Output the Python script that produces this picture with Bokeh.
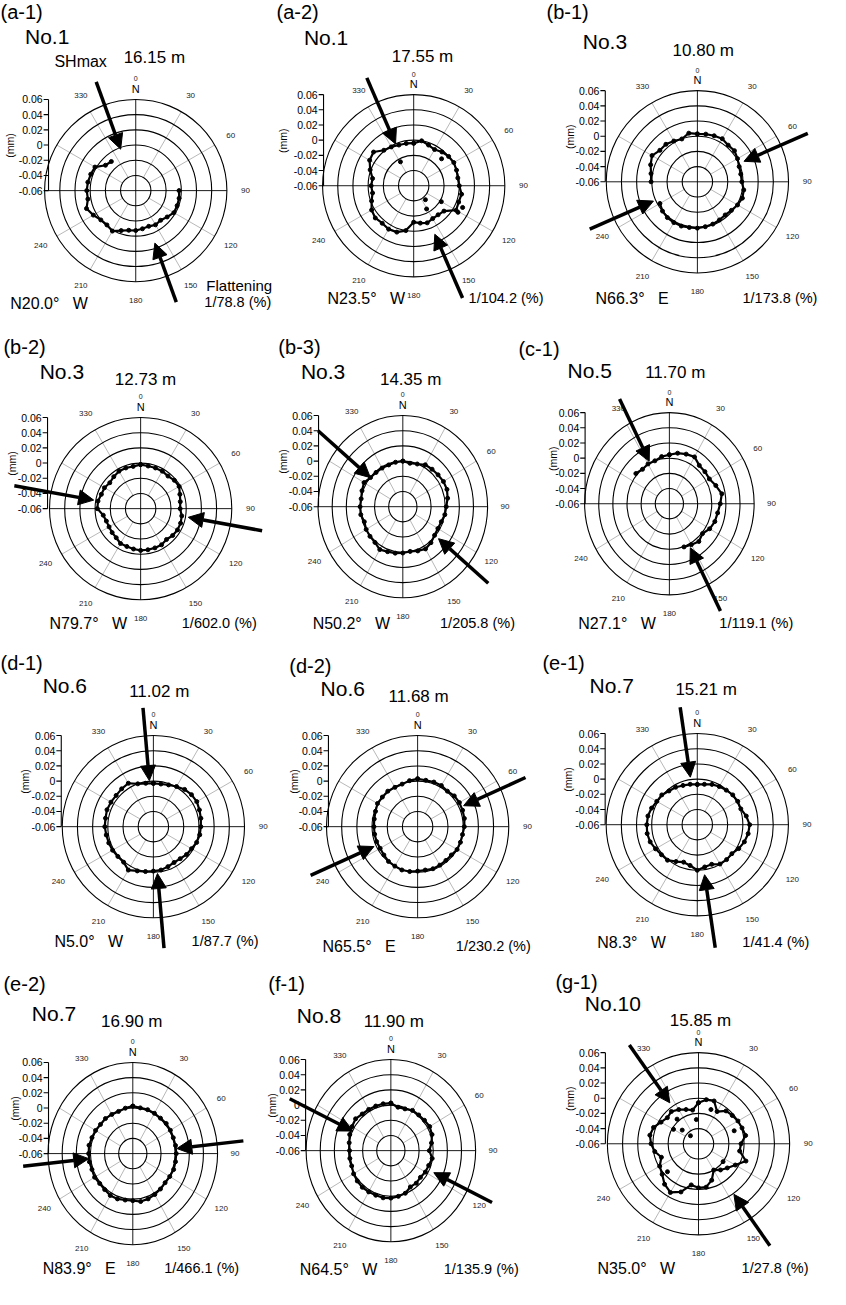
import numpy as np
from bokeh.plotting import figure
from bokeh.layouts import column, row
from bokeh.models import Range1d, Arrow, NormalHead, ColumnDataSource
from bokeh.core.properties import value
from bokeh.embed import file_html
from bokeh.resources import INLINE

nan = float("nan")

# ---------------- data ----------------
angles_deg = list(range(0, 360, 10))

panel_ids = ["(a-1)", "(a-2)", "(b-1)", "(b-2)", "(b-3)", "(c-1)",
             "(d-1)", "(d-2)", "(e-1)", "(e-2)", "(f-1)", "(g-1)"]
well_names = ["No.1", "No.1", "No.3", "No.3", "No.3", "No.5",
              "No.6", "No.6", "No.7", "No.7", "No.8", "No.10"]
depth_m = [16.15, 17.55, 10.80, 12.73, 14.35, 11.70,
           11.02, 11.68, 15.21, 16.90, 11.90, 15.85]
shmax_deg = [20.0, 23.5, 66.3, 79.7, 50.2, 27.1,
             5.0, 65.5, 8.3, 83.9, 64.5, 35.0]
shmax_side = ["W", "W", "E", "W", "W", "W",
              "W", "E", "W", "E", "W", "W"]
flattening_inv = [78.8, 104.2, 173.8, 602.0, 205.8, 119.1,
                  87.7, 230.2, 41.4, 466.1, 135.9, 27.8]

radial_ticks = [0.06, 0.04, 0.02, 0.0, -0.02, -0.04, -0.06]
radial_tick_labels = ["0.06", "0.04", "0.02", "0", "-0.02", "-0.04", "-0.06"]
ring_values = [0.06, 0.04, 0.02, 0.0, -0.02, -0.04]
angle_tick_deg = [30, 60, 90, 120, 150, 180, 210, 240, 330]
angle_tick_labels = ["30", "60", "90", "120", "150", "180", "210", "240", "330"]
spoke_deg = [30, 60, 120, 150, 210, 240, 300, 330]

# radial displacement (mm) read every 10 degrees (azimuth from N, clockwise)
r_a1 = [nan, nan, nan, nan, nan, nan, nan, nan, nan,
        -0.003, -0.002, -0.002, -0.002, -0.006, -0.009, -0.008, -0.010, -0.009,
        -0.0075, -0.007, -0.004, 0.0015, -0.001, 0.0, 0.0045, 0.009, 0.004,
        0.0045, 0.004, 0.003, 0.002, -0.008, -0.010, nan, nan, nan]
r_a2 = [-0.004, 0.0, -0.003, -0.005, -0.002, 0.0, 0.001, 0.0, -0.001,
        0.0, 0.004, 0.003, 0.0045, -0.008, -0.010, -0.010, -0.008, -0.010,
        -0.012, 0.0, 0.005, 0.006, 0.0045, 0.006, 0.004, -0.001, -0.005,
        -0.004, -0.005, 0.001, 0.007, 0.009, 0.001, -0.001, -0.003, -0.0035]
r_b1 = [0.003, 0.0037, 0.0045, 0.0055, 0.003, 0.0037, 0.001, -0.0015, -0.002,
        -0.0015, 0.002, 0.003, 0.001, -0.0015, -0.003, -0.002, -0.0007, 0.0,
        0.001, 0.001, 0.002, 0.002, 0.0015, 0.0, -0.003, nan, nan,
        0.001, 0.002, 0.0055, 0.009, 0.0045, 0.0045, 0.002, 0.0, 0.005]
r_b2 = [-0.002, -0.003, -0.003, -0.003, -0.004, -0.002, -0.0015, -0.005, -0.007,
        -0.008, -0.005, -0.004, -0.004, -0.005, -0.007, -0.005, -0.005, -0.005,
        -0.005, -0.006, -0.007, -0.007, -0.010, -0.011, -0.012, -0.012, -0.010,
        -0.003, -0.003, -0.005, -0.005, -0.007, -0.005, -0.003, -0.003, -0.0035]
r_b3 = [0.0, -0.0019, -0.0002, 0.0037, 0.0044, 0.0052, 0.0064, 0.0065, 0.0044,
        0.0015, 0.0004, -0.002, -0.0026, -0.0013, 0.0019, 0.0042, 0.002, -0.0002,
        0.001, 0.0021, 0.003, 0.0052, 0.0014, 0.0007, -0.0001, -0.002, 0.0004,
        0.0005, -0.0001, 0.0015, 0.0034, -0.0003, -0.0011, -0.0013, -0.0015, -0.0006]
r_c1 = [0.0045, 0.0076, 0.0095, 0.0112, 0.0059, 0.0057, 0.0054, 0.010, 0.0154,
        0.012, 0.0094, 0.0085, 0.0059, 0.0012, 0.0049, 0.0022, 0.0005, nan,
        nan, nan, nan, nan, nan, nan, nan, nan, nan,
        nan, nan, nan, nan, 0.0019, -0.0008, 0.0005, 0.0001, 0.003]
r_d1 = [-0.003, -0.003, -0.0015, 0.001, 0.004, 0.0055, 0.006, 0.0045, 0.0035,
        0.0025, 0.002, 0.0006, -0.002, -0.003, -0.005, -0.0055, -0.004, -0.002,
        -0.0015, 0.0, 0.002, 0.006, 0.001, 0.001, 0.002, 0.0025, 0.003,
        0.004, 0.004, 0.005, 0.0045, 0.004, 0.005, 0.006, 0.0, -0.002]
r_d2 = [0.003, 0.002, 0.0025, 0.0025, 0.001, 0.003, 0.0035, 0.003, 0.0025,
        0.0015, 0.0, 0.0, 0.0, -0.002, -0.002, -0.0015, -0.001, -0.002,
        -0.0015, 0.0, 0.0007, 0.0, -0.0003, -0.002, -0.003, -0.0025, -0.0025,
        -0.0025, -0.002, -0.001, 0.001, 0.0006, 0.001, -0.0002, -0.0004, 0.0015]
r_e1 = [-0.007, -0.006, -0.0035, -0.002, -0.0006, 0.001, 0.0015, 0.001, 0.0055,
        0.009, 0.008, 0.006, 0.003, -0.0006, 0.0, -0.0002, -0.0045, -0.0035,
        0.0, -0.0055, -0.0075, -0.004, 0.001, 0.0015, 0.0035, 0.006, 0.007,
        0.0065, 0.006, 0.004, 0.0015, 0.001, -0.002, -0.003, -0.005, -0.006]
r_e2 = [0.0025, 0.0011, 0.0015, 0.0012, 0.0009, 0.0017, 0.0014, 0.001, 0.0014,
        0.0015, 0.0014, 0.0015, 0.0004, -0.0003, 0.0009, 0.0022, 0.0035, 0.0041,
        0.002, 0.0021, 0.0035, 0.0037, 0.0019, 0.0012, 0.0024, 0.0015, 0.0024,
        0.0025, 0.0029, 0.0015, 0.0009, -0.0003, 0.0002, -0.0005, -0.0009, 0.0007]
r_f1 = [0.0025, -0.0019, -0.0015, 0.0012, 0.0013, 0.0021, 0.0034, 0.002, -0.0016,
        -0.0055, -0.0006, -0.003, -0.0036, -0.0053, -0.0041, -0.0048, -0.0003, 0.0011,
        0.0025, 0.0031, 0.0025, 0.0027, 0.0029, 0.0021, 0.0009, -0.001, -0.0011,
        -0.0015, -0.0001, 0.002, 0.0034, 0.0052, 0.003, 0.0027, 0.0025, 0.0026]
r_g1 = [-0.006, -0.001, 0.0, -0.011, -0.0035, -0.002, 0.0, 0.001, 0.003,
        -0.004, -0.005, 0.0065, -0.004, -0.0105, -0.015, -0.020, -0.009, -0.002,
        -0.002, -0.005, 0.0075, 0.014, 0.0095, 0.0025, -0.001, -0.008, -0.0015,
        0.0025, 0.005, 0.003, -0.003, -0.0065, -0.0045, -0.008, -0.012, -0.015]

series = [r_a1, r_a2, r_b1, r_b2, r_b3, r_c1, r_d1, r_d2, r_e1, r_e2, r_f1, r_g1]

# isolated scattered readings (azimuth deg, mm)
a2_extra_deg = [331, 140, 151, 46, 121, 114, 120]
a2_extra_val = [-0.024, -0.036, -0.025, -0.009, 0.008, 0.0105, -0.018]
g1_extra_deg = [319, 315, 355, 310, 126, 228, 300, 20, 70]
g1_extra_val = [-0.017, -0.045, -0.028, -0.032, -0.020, -0.005, -0.022, -0.012, -0.010]
extra_deg = {1: a2_extra_deg, 11: g1_extra_deg}
extra_val = {1: a2_extra_val, 11: g1_extra_val}

# ---------------- layout / style config ----------------
FONT = "Liberation Sans"
S = 0.98          # page px per reference px
PPM = 775.0       # reference px per mm (vertical)
R0 = 0.06         # radial offset: -0.06 mm at the centre

# horizontal squeeze of some panels in the reference
kx = [1.0, 1.0, 1.0, 1.0, 0.93, 0.93, 1.0, 1.0, 1.0, 0.93, 0.93, 1.0]
centers = [(138, 194), (422, 189), (711, 185), (143, 519), (411, 517), (683, 514),
           (156, 844), (426, 844), (711, 842), (135, 1178), (398, 1175), (712, 1168)]
cells = [(0, 0, 282, 326), (282, 0, 274, 326), (556, 0, 290, 326),
         (0, 326, 277, 326), (277, 326, 250, 326), (527, 326, 319, 326),
         (0, 652, 282, 330), (282, 652, 268, 330), (550, 652, 296, 330),
         (0, 982, 266, 323), (266, 982, 296, 323), (562, 982, 284, 323)]
id_pos = [(0, 1), (282, 1), (557, 1), (3, 343), (284, 343), (529, 345),
          (0, 666), (295, 669), (553, 666), (3, 994), (273, 994), (566, 992)]
name_pos = [(25, 25), (310, 26), (594, 30), (40, 367), (307, 367), (579, 366),
            (43, 688), (327, 691), (601, 688), (32, 1023), (302, 1025), (596, 1013)]
depth_pos = [(157, 58), (431, 57), (717, 51), (148, 387), (419, 387), (689, 380),
             (162, 706), (427, 711), (720, 704), (134, 1043), (401, 1043), (714, 1042)]
bear_pos = [(10, 309), (334, 304), (607, 304), (50, 636), (319, 636), (590, 636),
            (55, 961), (329, 966), (609, 962), (43, 1295), (305, 1296), (609, 1295)]
flat_pos = [(208, 308), (478, 304), (757, 304), (185, 636), (449, 636), (734, 636),
            (195, 961), (465, 966), (757, 962), (167, 1295), (452, 1296), (756, 1295)]
axis_px = [-89, -92, -94, -95, -86, -86, -94, -91, -94, -86, -87, -95]
mm_px = [-128, -133, -130, -131, -122, -119, -131, -126, -132, -120, -121, -131]
# arrow (tip, start) radii in reference px: SHmax direction, then opposite
arrow_r = [(45, 118, 57, 121), (46.5, 120, 54, 125), (52, 123, 49, 120),
           (48.7, 131, 49.4, 126), (46.3, 121, 51, 122), (48.6, 120, 50.4, 123),
           (47.2, 121.6, 48, 124.5), (51.6, 121, 49, 120), (49, 121, 51.6, 127),
           (48.6, 122, 48.6, 121), (46.4, 123, 52.2, 123), (51, 123, 63, 127)]


def make_panel(i):
    X0, Y0, W, H = cells[i]
    cx, cy = centers[i]
    k = kx[i]
    w = int(round(W * S))
    h = int(round(H * S))
    xs = (X0 - cx) / (PPM * k)
    xe = xs + w / (S * PPM * k)
    ye = (cy - Y0) / PPM
    ys = ye - h / (S * PPM)
    p = figure(width=w, height=h, x_range=Range1d(xs, xe), y_range=Range1d(ys, ye),
               output_backend="svg", toolbar_location=None, min_border=0,
               x_axis_type=None, y_axis_type=None, title=None)
    p.outline_line_color = None
    p.background_fill_color = "white"
    p.border_fill_color = "white"
    p.grid.visible = False

    def D(X, Y):
        return (X - cx) / (PPM * k), (cy - Y) / PPM

    def dx(px):
        return px / (PPM * k)

    rmax = ring_values[0] + R0
    rin = ring_values[-1] + R0

    # spokes
    th = np.radians(spoke_deg)
    p.segment(x0=rin * np.sin(th), y0=rin * np.cos(th), x1=rmax * np.sin(th), y1=rmax * np.cos(th),
              line_color="#9a9a9a", line_width=0.7)
    # cross
    p.segment(x0=[-rmax, 0], y0=[0, -rmax], x1=[rmax, 0], y1=[0, rmax],
              line_color="black", line_width=0.9)
    # rings
    rr_ring = [2 * (v + R0) for v in ring_values]
    p.ellipse(x=[0] * len(ring_values), y=[0] * len(ring_values),
              width=rr_ring, height=rr_ring,
              fill_color=None, line_color="black", line_width=1.1)

    # angle labels
    rl = 112 / PPM
    ta = np.radians(angle_tick_deg)
    p.text(x=rl * np.sin(ta), y=rl * np.cos(ta), text=angle_tick_labels,
           text_font=value(FONT), text_font_size="8px", text_color="#222222",
           text_align="center", text_baseline="middle")
    p.text(x=[0], y=[114 / PPM], text=["0"], text_font=value(FONT), text_font_size="7px",
           text_align="center", text_baseline="middle", text_color="#222222")
    p.text(x=[0], y=[104 / PPM], text=["N"], text_font=value(FONT), text_font_size="11px",
           text_align="center", text_baseline="middle")

    # radial axis
    ax = dx(axis_px[i])
    ty = [v + R0 for v in radial_ticks]
    p.segment(x0=[ax], y0=[min(ty)], x1=[ax], y1=[max(ty)], line_color="black", line_width=1.1)
    p.segment(x0=[ax] * len(ty), y0=ty, x1=[ax - dx(5)] * len(ty), y1=ty,
              line_color="black", line_width=1.1)
    p.text(x=[ax - dx(6)] * len(ty), y=ty, text=radial_tick_labels,
           text_font=value(FONT), text_font_size="10.5px",
           text_align="right", text_baseline="middle")
    p.text(x=[dx(mm_px[i])], y=[46 / PPM], text=["(mm)"], angle=np.pi / 2, text_font=value(FONT),
           text_font_size="10.5px", text_align="center", text_baseline="middle")

    # data
    vals = np.array(series[i] + [series[i][0]], dtype=float)
    ang = np.radians(angles_deg + [360])
    rr = vals + R0
    src = ColumnDataSource(dict(x=rr * np.sin(ang), y=rr * np.cos(ang)))
    p.line("x", "y", source=src, line_color="black", line_width=2.2)
    p.scatter("x", "y", source=src, size=4, color="black")
    if i in extra_deg:
        ea = np.radians(extra_deg[i])
        er = np.array(extra_val[i]) + R0
        p.scatter(er * np.sin(ea), er * np.cos(ea), size=4, color="black")

    # arrows
    az = shmax_deg[i] if shmax_side[i] == "E" else 360.0 - shmax_deg[i]
    t1, s1, t2, s2 = arrow_r[i]
    for a, t, s_ in ((az, t1, s1), (az + 180.0, t2, s2)):
        ar = np.radians(a)
        p.add_layout(Arrow(end=NormalHead(size=15, fill_color="black", line_color="black"),
                           x_start=s_ / PPM * np.sin(ar), y_start=s_ / PPM * np.cos(ar),
                           x_end=t / PPM * np.sin(ar), y_end=t / PPM * np.cos(ar),
                           line_width=3.5, line_color="black"))

    # texts
    x, y = D(*id_pos[i])
    p.text(x=[x], y=[y], text=[panel_ids[i]], text_font=value(FONT), text_font_size="20px",
           text_align="left", text_baseline="top")
    x, y = D(*name_pos[i])
    p.text(x=[x], y=[y], text=[well_names[i]], text_font=value(FONT), text_font_size="21px",
           text_align="left", text_baseline="top")
    x, y = D(*depth_pos[i])
    p.text(x=[x], y=[y], text=[f"{depth_m[i]:.2f} m"], text_font=value(FONT),
           text_font_size="17px", text_align="center", text_baseline="middle")
    x, y = D(*bear_pos[i])
    p.text(x=[x], y=[y], text=[f"N{shmax_deg[i]:.1f}\u00b0\u00a0\u00a0\u00a0{shmax_side[i]}"],
           text_font=value(FONT), text_font_size="16px", text_align="left", text_baseline="middle")
    x, y = D(*flat_pos[i])
    p.text(x=[x], y=[y], text=[f"1/{flattening_inv[i]:.1f} (%)"], text_font=value(FONT),
           text_font_size="14.5px", text_align="left", text_baseline="middle")
    if i == 0:
        x, y = D(55, 62)
        p.text(x=[x], y=[y], text=["SHmax"], text_font=value(FONT), text_font_size="16px",
               text_align="left", text_baseline="middle")
        x, y = D(210, 291)
        p.text(x=[x], y=[y], text=["Flattening"], text_font=value(FONT), text_font_size="15px",
               text_align="left", text_baseline="middle")
    return p


panels = [make_panel(i) for i in range(12)]
layout = column(row(*panels[0:3]), row(*panels[3:6]), row(*panels[6:9]), row(*panels[9:12]))

open("out.html", "w").write(file_html(layout, INLINE))
